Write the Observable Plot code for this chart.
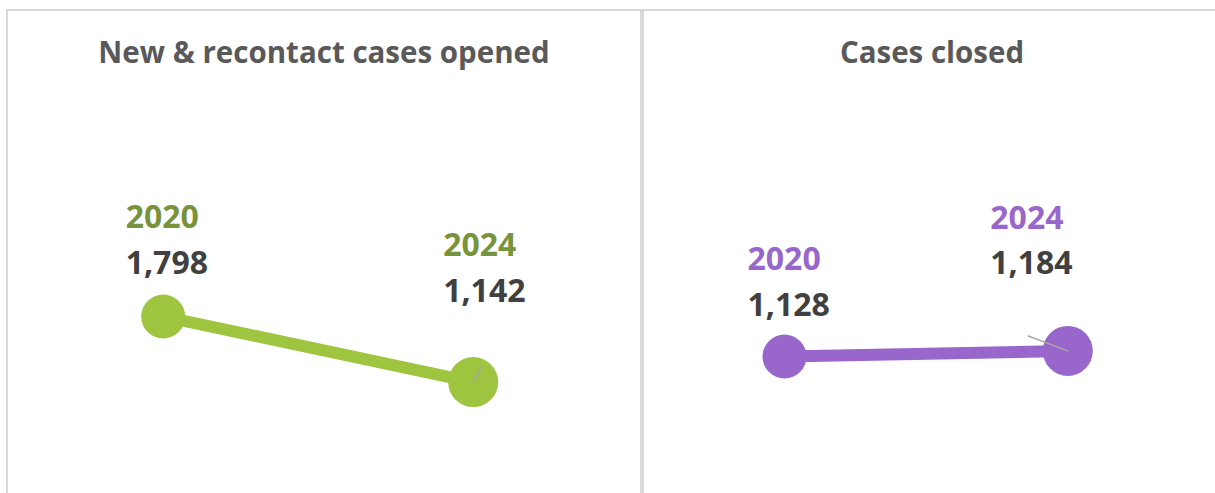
<!DOCTYPE html>
<html><head><meta charset="utf-8">
<script src="https://cdn.jsdelivr.net/npm/d3@7"></script>
<script src="https://cdn.jsdelivr.net/npm/@observablehq/plot@0.6"></script>
<style>
html,body{margin:0;padding:0;background:#fff;width:1215px;height:493px;overflow:hidden;}
.panel{position:absolute;top:9px;height:500px;border:2px solid #d9d9d9;border-bottom:none;box-sizing:border-box;}
#p1{left:6px;width:636px;}
#p2{left:642px;width:580px;}
.title{height:64px;padding-top:26px;font:bold 29.5px "Open Sans";line-height:29.5px;color:#595959;text-align:center;white-space:nowrap;}
svg{display:block;overflow:visible;}
</style>
</head><body>
<div class="panel" id="p1"></div>
<div class="panel" id="p2"></div>
<script>
// ---- data ----
const panelTitles = ["New & recontact cases opened", "Cases closed"];
const years = [2020, 2024];
const openedValues = [1798, 1142];
const closedValues = [1128, 1184];

// ---- styling / layout ----
const fmt = d3.format(",");
const panelsCfg = [
  {
    el: "#p1", title: panelTitles[0], values: openedValues,
    color: "#9FC43F", yearColor: "#77933C",
    width: 632, ml: 154.7, mr: 167.3, mt: 144.8, mb: 47.2,
    labels: [{dx: -37.5, dyYear: -89, dyVal: -43}, {dx: -30, dyYear: -125.7, dyVal: -80}],
    leader: {length: 18, rotate: 27.4}
  },
  {
    el: "#p2", title: panelTitles[1], values: closedValues,
    color: "#9966CC", yearColor: "#9966CC",
    width: 576, ml: 140, mr: 152.7, mt: 117.8, mb: 74.2,
    labels: [{dx: -37, dyYear: -87, dyVal: -41}, {dx: -77.5, dyYear: -121.7, dyVal: -76.7}],
    leader: {length: 42.3, rotate: 290.7}
  }
];

const lineShape = {draw(context, l) { context.moveTo(0, 0); context.lineTo(0, -l); }};

for (const cfg of panelsCfg) {
  const rows = years.map((y, i) => ({year: y, value: cfg.values[i]}));
  const container = document.querySelector(cfg.el);
  const t = document.createElement("div");
  t.className = "title";
  t.textContent = cfg.title;
  container.appendChild(t);

  const textCommon = {x: "year", y: "value", textAnchor: "start", lineAnchor: "bottom",
    fontSize: 32, fontWeight: "bold", fontFamily: "Open Sans"};
  const labelMarks = rows.flatMap((r, i) => [
    Plot.text([r], {...textCommon, text: d => String(d.year), fill: cfg.yearColor,
      dx: cfg.labels[i].dx, dy: cfg.labels[i].dyYear}),
    Plot.text([r], {...textCommon, text: d => fmt(d.value), fill: "#404040",
      dx: cfg.labels[i].dx, dy: cfg.labels[i].dyVal})
  ]);

  const chart = Plot.plot({
    width: cfg.width, height: 392,
    marginLeft: cfg.ml, marginRight: cfg.mr, marginTop: cfg.mt, marginBottom: cfg.mb,
    x: {domain: [2020, 2024], axis: null},
    y: {domain: [500, 2500], axis: null},
    r: {type: "identity"},
    style: {background: "transparent", overflow: "visible"},
    marks: [
      Plot.line(rows, {x: "year", y: "value", stroke: cfg.color, strokeWidth: 12}),
      Plot.dot(rows, {x: "year", y: "value", r: d => d.year === 2024 ? 25 : 22, fill: cfg.color, stroke: "none"}),
      Plot.vector([rows[1]], {x: "year", y: "value", length: cfg.leader.length, rotate: cfg.leader.rotate,
        anchor: "start", shape: lineShape, stroke: "#a6a6a6", strokeWidth: 1.5}),
      ...labelMarks
    ]
  });
  container.appendChild(chart);
}
</script>
</body></html>
